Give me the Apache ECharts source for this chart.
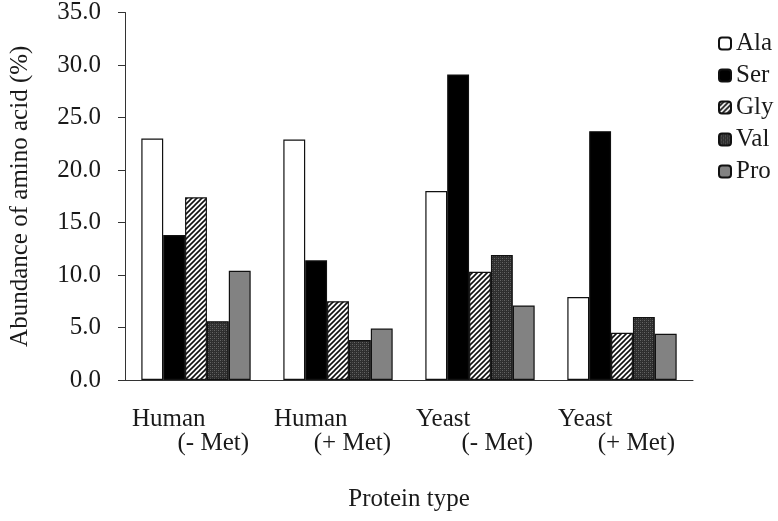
<!DOCTYPE html>
<html><head><meta charset="utf-8">
<script src="https://cdn.jsdelivr.net/npm/echarts@6/dist/echarts.min.js"></script>
<style>html,body{margin:0;padding:0;background:#fff}#c{width:778px;height:521px}</style>
</head><body><div id="c"></div>
<script>
const categories = [['Human','(- Met)'],['Human','(+ Met)'],['Yeast','(- Met)'],['Yeast','(+ Met)']];
const seriesNames = ['Ala','Ser','Gly','Val','Pro'];
const ala = [23.0, 22.9, 18.0, 7.9];
const ser = [13.8, 11.4, 29.1, 23.7];
const gly = [17.4, 7.5, 10.3, 4.5];
const val = [5.6, 3.8, 11.9, 6.0];
const pro = [10.4, 4.9, 7.1, 4.4];
const yTicks = {min: 0, max: 35, interval: 5};

function hatch() {
  const c = document.createElement('canvas'); c.width = 5; c.height = 5;
  const g = c.getContext('2d');
  g.fillStyle = '#fff'; g.fillRect(0,0,5,5);
  g.strokeStyle = '#111'; g.lineWidth = 1.6;
  g.beginPath(); g.moveTo(-1,6); g.lineTo(6,-1); g.stroke();
  g.beginPath(); g.moveTo(-1,1); g.lineTo(1,-1); g.stroke();
  g.beginPath(); g.moveTo(4,6); g.lineTo(6,4); g.stroke();
  return {image: c, repeat: 'repeat'};
}
function grid() {
  const c = document.createElement('canvas'); c.width = 4; c.height = 4;
  const g = c.getContext('2d');
  g.fillStyle = '#2e2e2e'; g.fillRect(0,0,4,4);
  g.fillStyle = '#666'; g.fillRect(0,0,1,1); g.fillRect(2,2,1,1);
  g.fillStyle = '#4a4a4a'; g.fillRect(2,0,1,1); g.fillRect(0,2,1,1);
  return {image: c, repeat: 'repeat'};
}
const fills = ['#ffffff', '#000000', hatch(), grid(), '#828282'];
const values = [ala, ser, gly, val, pro];
const font = '"Liberation Serif", "Times New Roman", serif';
const FS = 25;

const chart = echarts.init(document.getElementById('c'));
chart.setOption({
  animation: false,
  textStyle: {fontFamily: font, color: '#1a1a1a'},
  grid: {left: 120, right: 85, top: 11, bottom: 141},
  legend: {
    orient: 'vertical', left: 713, top: 26,
    itemWidth: 12, itemHeight: 12, itemGap: 7,
    textStyle: {fontFamily: font, fontSize: FS, color: '#1a1a1a'},
    data: seriesNames
  },
  xAxis: {
    type: 'category',
    data: categories.map(c => c.join('\n')),
    name: 'Protein type', nameLocation: 'middle', nameGap: 107,
    nameTextStyle: {fontFamily: font, fontSize: FS, color: '#1a1a1a'},
    axisLine: {lineStyle: {color: '#333', width: 1}},
    axisTick: {length: 7, lineStyle: {color: '#333'}},
    axisLabel: {
      interval: 0, margin: 27, padding: [0, 11, 0, 0],
      formatter: v => { const p = v.split('\n'); return '{a|' + p[0] + '}\n{b|' + p[1] + '}'; },
      rich: {
        a: {width: 117, align: 'left', fontFamily: font, fontSize: FS, lineHeight: 24, color: '#1a1a1a'},
        b: {width: 117, align: 'right', fontFamily: font, fontSize: FS, lineHeight: 24, color: '#1a1a1a'}
      }
    }
  },
  yAxis: {
    type: 'value', min: yTicks.min, max: yTicks.max, interval: yTicks.interval,
    name: 'Abundance of amino acid (%)', nameLocation: 'middle', nameGap: 92,
    nameTextStyle: {fontFamily: font, fontSize: FS, color: '#1a1a1a'},
    splitLine: {show: false},
    axisLine: {show: true, lineStyle: {color: '#333', width: 1}},
    axisTick: {show: true, length: 7, lineStyle: {color: '#333'}},
    axisLabel: {fontFamily: font, fontSize: FS, color: '#1a1a1a', margin: 24, formatter: v => v.toFixed(1)}
  },
  series: seriesNames.map((n, i) => ({
    name: n, type: 'bar', data: values[i],
    barGap: '0%', barCategoryGap: '23%',
    itemStyle: {color: fills[i], borderColor: '#111', borderWidth: 1.2}
  }))
});
</script></body></html>
